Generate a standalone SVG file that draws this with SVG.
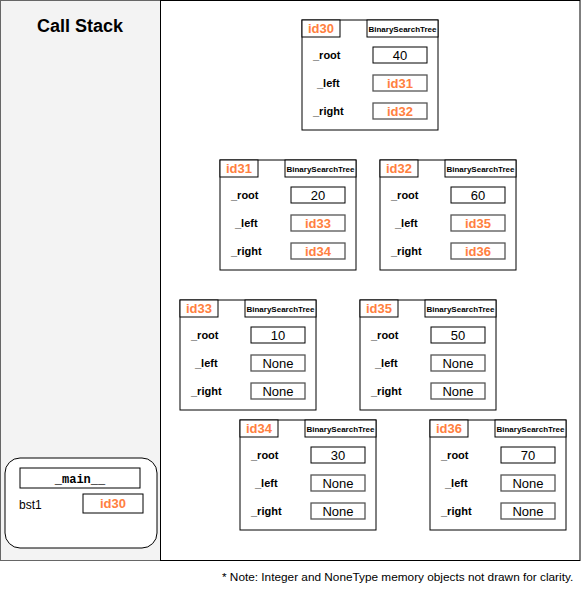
<svg xmlns="http://www.w3.org/2000/svg" width="582" height="591" viewBox="0 0 582 591">
<style>
text{font-family:"Liberation Sans",Arial,sans-serif;}
.frame{fill:#fff;stroke:#000;stroke-width:1;}
.tab{fill:#fff;stroke:#000;stroke-width:1;}
.idt{font-size:13px;font-weight:bold;fill:#ff8040;}
.cls{font-size:8px;font-weight:bold;fill:#000;}
.lbl{font-size:11px;font-weight:bold;fill:#000;}
.vbox{fill:#fff;stroke:#000;stroke-width:1;}
.rbox{fill:#fff;stroke:#555;stroke-width:1.3;}
.val{font-size:13px;fill:#000;text-anchor:middle;}
.ref{font-size:13px;font-weight:bold;fill:#ff8040;text-anchor:middle;}
</style>
<defs>
<g id="shell">
<rect class="frame" x="0" y="0" width="136" height="110"/>
<rect class="tab" x="0" y="0" width="38" height="17"/>
<rect class="tab" x="65" y="0" width="71" height="17"/>
<text class="cls" x="100.5" y="12" text-anchor="middle">BinarySearchTree</text>
<text class="lbl" x="11" y="39">_root</text>
<text class="lbl" x="15" y="67">_left</text>
<text class="lbl" x="11" y="95">_right</text>
<rect class="vbox" x="71" y="27" width="54" height="16"/>
</g>
</defs>
<rect x="0.5" y="0.5" width="160" height="560" fill="#f3f3f3" stroke="#666" stroke-width="1"/>
<rect x="160.5" y="0.5" width="419.5" height="560" fill="#fff" stroke="#000" stroke-width="1"/>
<text x="80" y="32" font-size="18" font-weight="bold" text-anchor="middle">Call Stack</text>
<g id="main-frame">
<rect x="5" y="458" width="152" height="90" rx="15" ry="15" fill="#fff" stroke="#000" stroke-width="1"/>
<rect x="20" y="468" width="120" height="20" fill="#fff" stroke="#000" stroke-width="1"/>
<text x="80" y="483" font-size="12" font-weight="bold" text-anchor="middle" style="font-family:'Liberation Mono','Courier New',monospace">_main__</text>
<text x="19" y="509" font-size="12">bst1</text>
<rect x="83" y="494" width="60" height="19" fill="#fff" stroke="#000" stroke-width="1"/>
<text class="ref" x="113" y="508">id30</text>
</g>
<g id="id30" transform="translate(302,20)">
<use href="#shell"/>
<text class="idt" x="19" y="13" text-anchor="middle">id30</text>
<text class="val" x="98" y="40">40</text>
<rect class="rbox" x="71" y="55" width="54" height="16"/><text class="ref" x="98" y="68">id31</text>
<rect class="rbox" x="71" y="83" width="54" height="16"/><text class="ref" x="98" y="96">id32</text>
</g>
<g id="id31" transform="translate(220,160)">
<use href="#shell"/>
<text class="idt" x="19" y="13" text-anchor="middle">id31</text>
<text class="val" x="98" y="40">20</text>
<rect class="rbox" x="71" y="55" width="54" height="16"/><text class="ref" x="98" y="68">id33</text>
<rect class="rbox" x="71" y="83" width="54" height="16"/><text class="ref" x="98" y="96">id34</text>
</g>
<g id="id32" transform="translate(380,160)">
<use href="#shell"/>
<text class="idt" x="19" y="13" text-anchor="middle">id32</text>
<text class="val" x="98" y="40">60</text>
<rect class="rbox" x="71" y="55" width="54" height="16"/><text class="ref" x="98" y="68">id35</text>
<rect class="rbox" x="71" y="83" width="54" height="16"/><text class="ref" x="98" y="96">id36</text>
</g>
<g id="id33" transform="translate(180,300)">
<use href="#shell"/>
<text class="idt" x="19" y="13" text-anchor="middle">id33</text>
<text class="val" x="98" y="40">10</text>
<rect class="rbox" x="71" y="55" width="54" height="16"/><text class="val" x="98" y="68">None</text>
<rect class="rbox" x="71" y="83" width="54" height="16"/><text class="val" x="98" y="96">None</text>
</g>
<g id="id35" transform="translate(360,300)">
<use href="#shell"/>
<text class="idt" x="19" y="13" text-anchor="middle">id35</text>
<text class="val" x="98" y="40">50</text>
<rect class="rbox" x="71" y="55" width="54" height="16"/><text class="val" x="98" y="68">None</text>
<rect class="rbox" x="71" y="83" width="54" height="16"/><text class="val" x="98" y="96">None</text>
</g>
<g id="id34" transform="translate(240,420)">
<use href="#shell"/>
<text class="idt" x="19" y="13" text-anchor="middle">id34</text>
<text class="val" x="98" y="40">30</text>
<rect class="rbox" x="71" y="55" width="54" height="16"/><text class="val" x="98" y="68">None</text>
<rect class="rbox" x="71" y="83" width="54" height="16"/><text class="val" x="98" y="96">None</text>
</g>
<g id="id36" transform="translate(430,420)">
<use href="#shell"/>
<text class="idt" x="19" y="13" text-anchor="middle">id36</text>
<text class="val" x="98" y="40">70</text>
<rect class="rbox" x="71" y="55" width="54" height="16"/><text class="val" x="98" y="68">None</text>
<rect class="rbox" x="71" y="83" width="54" height="16"/><text class="val" x="98" y="96">None</text>
</g>
<g id="connectors"></g>
<text x="222" y="581" font-size="11.8">* Note: Integer and NoneType memory objects not drawn for clarity.</text>
</svg>
